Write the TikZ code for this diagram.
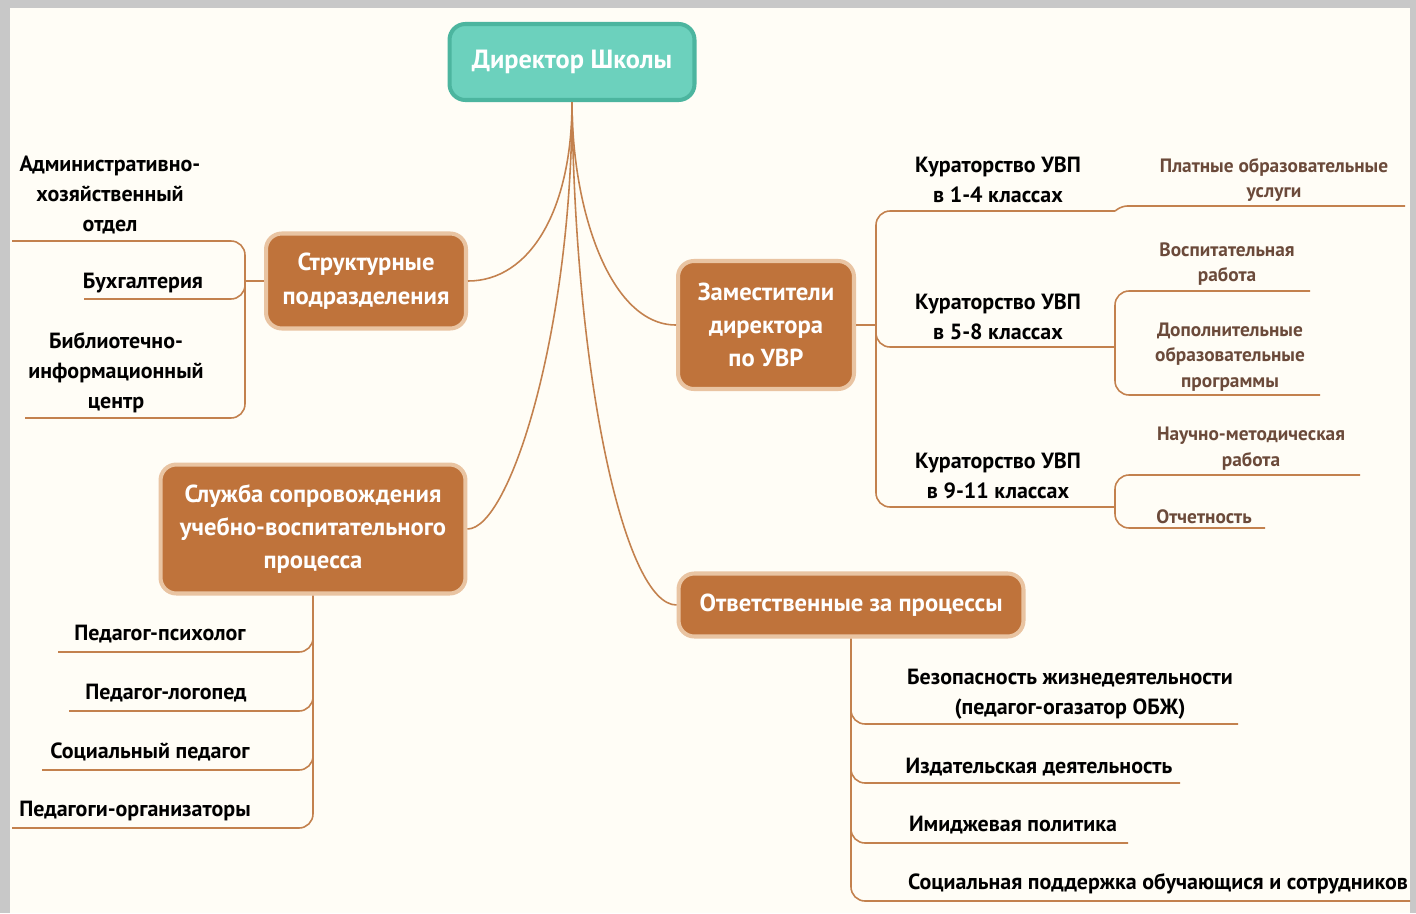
\documentclass[tikz,border=0pt]{standalone}
\usepackage{fontspec}
\setmainfont{PT Sans}
\definecolor{cream}{HTML}{FFFDF6}
\definecolor{frame}{HTML}{C8C8C8}
\definecolor{teal}{HTML}{6CD1BD}
\definecolor{tealdark}{HTML}{4CB59F}
\definecolor{rust}{HTML}{BF733B}
\definecolor{rustlight}{HTML}{E9C4A2}
\definecolor{brownline}{HTML}{C3814E}
\definecolor{browntext}{HTML}{6B4A3A}
\begin{document}
\begin{tikzpicture}[
        x=0.02cm, y=-0.02cm,
        topic/.style={draw=rustlight, fill=rust, line width=2.3pt, rounded corners=9pt,
          text=white, font=\bfseries\fontsize{14}{19}\selectfont, align=center, inner sep=0pt},
        leaf/.style={font=\bfseries\fontsize{12.5}{17}\selectfont, align=center, inner sep=0pt},
        subleaf/.style={font=\bfseries\fontsize{11}{14.7}\selectfont, text=browntext, align=center, inner sep=0pt},
        link/.style={draw=brownline, line width=0.9pt, rounded corners=8pt}
      ]
      % background and frame
      \fill[frame] (0,0) rectangle (1416,913);
      \fill[cream] (10,8) rectangle (1410,913);
      \useasboundingbox (0,0) rectangle (1416,913);

      % main topics
      \node[topic, draw=tealdark, fill=teal, minimum width=4.9cm, minimum height=1.52cm,
        font=\bfseries\fontsize{15}{19}\selectfont] (dir) at (572,62) {Директор Школы};
      \node[topic, minimum width=4cm, minimum height=1.9cm] (struct) at (366,281)
        {Структурные\\подразделения};
      \node[topic, minimum width=3.52cm, minimum height=2.56cm] (deputy) at (766,325)
        {Заместители\\директора\\по УВР};
      \node[topic, minimum width=6.1cm, minimum height=2.58cm] (service) at (313,529)
        {Служба сопровождения\\учебно-воспитательного\\процесса};
      \node[topic, minimum width=6.9cm, minimum height=1.26cm] (resp) at (851,605)
        {Ответственные за процессы};

      \draw[link] (dir.south) .. controls (572,210) and (530,281) .. (struct.east);
      \draw[link] (dir.south) .. controls (572,330) and (510,529) .. (service.east);
      \draw[link] (dir.south) .. controls (572,210) and (610,325) .. (deputy.west);
      \draw[link] (dir.south) .. controls (575,380) and (625,605) .. (resp.west);

      % structure branch
      \node[leaf] (adm) at (110,195) {Административно-\\хозяйственный\\отдел};
      \node[leaf] (buh) at (143,283) {Бухгалтерия};
      \node[leaf] (lib) at (116,373) {Библиотечно-\\информационный\\центр};
      \coordinate (sL) at (245,281);
      \coordinate (admU) at (12,241);
      \coordinate (buhU) at (84,299);
      \coordinate (libU) at (25,418);
      \draw[link] (struct.west) -- (sL);
      \draw[link] (admU) -- (admU -| sL) -- (libU -| sL) -- (libU);
      \draw[link] (buhU) -- (buhU -| sL) -- ++(0,-14);

      % service branch
      \node[leaf] (psy) at (160,634) {Педагог-психолог};
      \node[leaf] (logo) at (166,693) {Педагог-логопед};
      \node[leaf] (soc) at (150,752) {Социальный педагог};
      \node[leaf] (org) at (135,811) {Педагоги-организаторы};
      \coordinate (psyU) at (58,652);
      \coordinate (logoU) at (69,711);
      \coordinate (socU) at (42,770);
      \coordinate (orgU) at (12,828);
      \draw[link] (service.south) -- (orgU -| service.south) -- (orgU);
      \foreach \u in {psyU, logoU, socU}
        \draw[link] (\u) -- (\u -| service.south) -- ++(0,-14);

      % deputy branch
      \node[leaf] (cur1) at (998,180) {Кураторство УВП\\в 1-4 классах};
      \node[leaf] (cur2) at (998,317) {Кураторство УВП\\в 5-8 классах};
      \node[leaf] (cur3) at (998,476) {Кураторство УВП\\в 9-11 классах};
      \coordinate (dS) at (876,325);
      \coordinate (cur1U) at (1115,211);
      \coordinate (cur2U) at (1115,347);
      \coordinate (cur3U) at (1115,507);
      \draw[link] (deputy.east) -- (dS);
      \draw[link] (cur1U) -- (cur1U -| dS) -- (cur3U -| dS) -- (cur3U);
      \draw[link] (cur2U) -- (cur2U -| dS) -- ++(0,-14);

      \node[subleaf] (paid) at (1274,180) {Платные образовательные\\услуги};
      \node[subleaf] (edu) at (1227,264) {Воспитательная\\работа};
      \node[subleaf] (extra) at (1230,357) {Дополнительные\\образовательные\\программы};
      \node[subleaf] (sci) at (1251,449) {Научно-методическая\\работа};
      \node[subleaf] (rep) at (1204,517) {Отчетность};
      \coordinate (paidU) at (1405,206);
      \coordinate (eduU) at (1310,291);
      \coordinate (extraU) at (1320,395);
      \coordinate (sciU) at (1360,475);
      \coordinate (repU) at (1265,528);
      \draw[link, rounded corners=3pt] (cur1U) -- (1122,206) -- (paidU);
      \draw[link] (eduU) -- (eduU -| cur2U) -- (extraU -| cur2U) -- (extraU);
      \draw[link] (sciU) -- (sciU -| cur3U) -- (repU -| cur3U) -- (repU);

      % responsible branch
      \node[leaf] (safe) at (1070,694) {Безопасность жизнедеятельности\\(педагог-огазатор ОБЖ)};
      \node[leaf] (pub) at (1039,767) {Издательская деятельность};
      \node[leaf] (img) at (1013,825) {Имиджевая политика};
      \node[leaf] (help) at (1158,884) {Социальная поддержка обучающися и сотрудников};
      \coordinate (safeU) at (1238,724);
      \coordinate (pubU) at (1180,783);
      \coordinate (imgU) at (1128,843);
      \coordinate (helpU) at (1410,901);
      \draw[link] (resp.south) -- (helpU -| resp.south) -- (helpU);
      \foreach \u in {safeU, pubU, imgU}
        \draw[link] (\u) -- (\u -| resp.south) -- ++(0,-14);
\end{tikzpicture}
\end{document}
